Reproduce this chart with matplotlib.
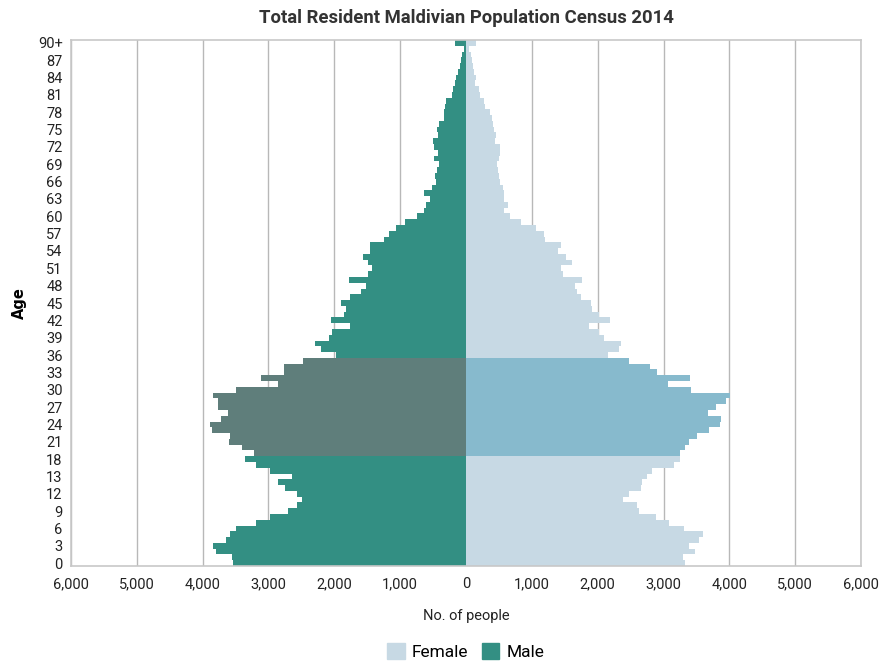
import matplotlib
matplotlib.use("Agg")
import matplotlib.pyplot as plt
from matplotlib.patches import Patch
from matplotlib.ticker import FuncFormatter

plt.rcParams['font.family'] = ['Roboto', 'DejaVu Sans']

# age groups, bottom to top (as they appear on the axis)
ages = ['0', '1', '2', '3', '4', '5', '6', '7', '8', '9', '10', '11', '12',
        '14', '15', '13', '16', '17', '18'] + [str(a) for a in range(19, 90)] + ['90+']

male = [3545, 3561, 3803, 3848, 3652, 3591, 3500, 3197, 2975, 2697,
        2561, 2485, 2561, 2742, 2848, 2636, 2975, 3197, 3364, 3227,
        3409, 3606, 3591, 3864, 3894, 3727, 3621, 3773, 3773, 3848,
        3500, 2848, 3121, 2758, 2758, 2470, 1970, 2197, 2288, 2076,
        2030, 1758, 2045, 1848, 1818, 1894, 1758, 1591, 1515, 1773,
        1485, 1424, 1485, 1561, 1455, 1455, 1242, 1167, 1061, 924,
        742, 636, 606, 545, 636, 515, 455, 470, 439, 409,
        485, 424, 485, 500, 424, 439, 409, 333, 333, 318,
        303, 212, 197, 167, 152, 121, 90, 76, 61, 30, 167]

female = [3333, 3303, 3485, 3394, 3545, 3606, 3318, 3091, 2879, 2621,
          2591, 2379, 2470, 2652, 2667, 2742, 2818, 3152, 3258, 3258,
          3333, 3394, 3515, 3697, 3864, 3879, 3682, 3803, 3955, 4005,
          3424, 3061, 3409, 2894, 2788, 2470, 2152, 2318, 2348, 2091,
          2015, 1864, 2182, 2015, 1909, 1894, 1742, 1682, 1652, 1758,
          1470, 1439, 1606, 1515, 1394, 1439, 1197, 1182, 1061, 833,
          667, 576, 636, 576, 576, 561, 515, 500, 485, 470,
          500, 515, 515, 439, 455, 424, 409, 394, 364, 288,
          273, 212, 197, 136, 152, 121, 106, 91, 76, 40, 152]

# highlighted block: age 19 to 35
hl_start, hl_end = 19, 35

male_col = '#338f83'
male_hl = '#5f7e7b'
female_col = '#c7d9e4'
female_hl = '#87bacd'

pos = list(range(len(ages)))
mcols = [male_hl if hl_start <= p <= hl_end else male_col for p in pos]
fcols = [female_hl if hl_start <= p <= hl_end else female_col for p in pos]

fig = plt.figure(figsize=(8.84, 6.61), dpi=100)
ax = fig.add_axes([0.0803, 0.1437, 0.8937, 0.7958])

ax.barh(pos, [-m for m in male], height=1.0, color=mcols, zorder=2)
ax.barh(pos, female, height=1.0, color=fcols, zorder=2)

ax.set_xlim(-6000, 6000)
ax.set_ylim(-0.5, len(ages) - 0.5)
ax.set_xticks(range(-6000, 6001, 1000))
ax.xaxis.set_major_formatter(FuncFormatter(lambda v, p: f"{abs(int(v)):,}"))
ax.set_yticks(pos[::3])
ax.set_yticklabels(ages[::3])
ax.tick_params(axis='both', length=0, colors='#222222')
ax.tick_params(axis='x', pad=8, labelsize=10.5)
ax.tick_params(axis='y', pad=6, labelsize=10.5)

ax.grid(axis='x', color='#b8b8b8', linewidth=1, zorder=0)
ax.set_axisbelow(True)
for s in ax.spines.values():
    s.set_color('#c8c8c8')
    s.set_linewidth(1.2)

ax.set_xlabel('No. of people', fontsize=10.5, labelpad=13, color='#222222')
ax.set_ylabel('Age', fontsize=10.5, fontweight='bold', labelpad=8, family=['DejaVu Sans'])
ax.set_title('Total Resident Maldivian Population Census 2014', fontsize=13.3,
             fontweight='bold', pad=12, color='#333333')

handles = [Patch(color=female_col, label='Female'), Patch(color=male_col, label='Male')]
fig.legend(handles=handles, loc='lower center', ncol=2, frameon=False, fontsize=12.5,
           bbox_to_anchor=(0.527, -0.022), handlelength=1.0, handleheight=1.1,
           handletextpad=0.4, columnspacing=0.8)

fig.savefig('out.png', dpi=100)
